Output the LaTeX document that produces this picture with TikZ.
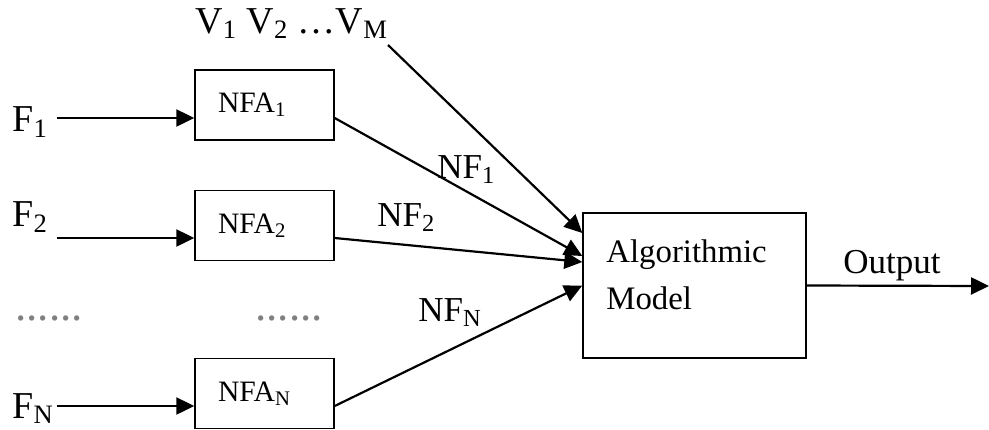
\documentclass[tikz,border=0pt]{standalone}
\usepackage{fontspec}
\setmainfont{Liberation Serif}
\usetikzlibrary{arrows.meta}

\begin{document}
\begin{tikzpicture}[x=0.5pt,y=-0.5pt,
    nfabox/.style={draw, line width=0.7pt, minimum width=69.5pt, minimum height=35pt,
        text width=46.5pt, inner xsep=11.5pt, align=left, font=\fontsize{14.8}{17}\selectfont},
    feed/.style={line width=1.1pt, -{Triangle[length=9pt,width=8.5pt]}},
    biglbl/.style={anchor=base west, inner sep=0pt, font=\fontsize{19}{22}\selectfont},
    nflbl/.style={anchor=base west, inner sep=0pt, font=\fontsize{17.5}{20}\selectfont},
    skip/.style={anchor=base west, inner sep=0pt, text=gray, font=\fontsize{22.5}{24}\selectfont}]
\useasboundingbox (0,0) rectangle (989,429);

\node[nfabox] (nfa1) at (264.5,105) {NFA\textsubscript{1}};
\node[nfabox] (nfa2) at (264.5,225.5) {NFA\textsubscript{2}};
\node[nfabox] (nfaN) at (264.5,393.5) {NFA\textsubscript{N}};
\node[draw, line width=0.7pt, minimum width=111.5pt, minimum height=72.5pt] (alg) at (694.5,285.5) {};
\node[anchor=north west, inner sep=0pt, align=left, font=\fontsize{16.4}{23.3}\selectfont] (algtxt) at (606,239.5) {Algorithmic\\Model};

\node[biglbl] (f1) at (12,131.7) {F\textsubscript{1}};
\node[biglbl] (f2) at (12,226.7) {F\textsubscript{2}};
\node[biglbl] (fN) at (12,418) {F\textsubscript{N}};
\node[biglbl] (vlbl) at (195,33) {V\textsubscript{1} V\textsubscript{2} \ldots V\textsubscript{M}};
\node[nflbl] (nf1) at (437,178) {NF\textsubscript{1}};
\node[nflbl] (nf2) at (377,226.7) {NF\textsubscript{2}};
\node[nflbl] (nfN) at (418,321.7) {NF\textsubscript{N}};
\node[nflbl] (outlbl) at (843,273) {Output};
\node[skip] (dotsa) at (15,320) {......};
\node[skip] (dotsb) at (255,320) {......};

\coordinate (in1) at (57,118);
\coordinate (in2) at (57,238);
\coordinate (inN) at (57,406);
\coordinate (vin) at (388,45);
\coordinate (out) at (989,286);

\draw[feed] (in1) -- ([yshift=-6.5pt]nfa1.west);
\draw[feed] (in2) -- ([yshift=-6.25pt]nfa2.west);
\draw[feed] (inN) -- ([yshift=-6.25pt]nfaN.west);
\draw[feed] (vin) -- ([yshift=26.25pt]alg.west);
\draw[feed] ([yshift=-6.5pt]nfa1.east) -- ([yshift=14.75pt]alg.west);
\draw[feed] ([yshift=-6.25pt]nfa2.east) -- ([yshift=11.75pt]alg.west);
\draw[feed] ([yshift=-6.25pt]nfaN.east) -- (alg.west);
\draw[feed] (alg.east) -- (out);
\end{tikzpicture}
\end{document}
